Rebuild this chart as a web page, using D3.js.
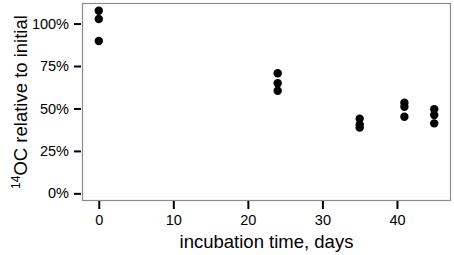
<!DOCTYPE html>
<html>
<head>
<meta charset="utf-8">
<script src="https://cdn.jsdelivr.net/npm/d3@7"></script>
<style>
  body { margin: 0; background: #fff; }
  svg { display: block; font-family: "Liberation Sans", Arial, sans-serif; }
</style>
</head>
<body>
<div id="chart"></div>
<script>
// incubation day of each sample and fraction of 14OC remaining
const days = [0, 0, 0, 24, 24, 24, 35, 35, 35, 41, 41, 41, 45, 45, 45];
const fraction = [1.075, 1.027, 0.897, 0.707, 0.648, 0.604, 0.44, 0.405, 0.387,
                  0.534, 0.51, 0.451, 0.496, 0.461, 0.412];
const xTicks = [0, 10, 20, 30, 40];
const yTicks = [0, 0.25, 0.5, 0.75, 1];

const width = 454, height = 255;
const margin = {top: 3, right: 3, bottom: 54, left: 82};

const svg = d3.select('#chart')
              .append('svg')
              .attr('width', width)
              .attr('height', height);

const x = d3.scaleLinear()
            .domain([-2.25, 47.25])
            .range([margin.left, width - margin.right]);

const y = d3.scaleLinear()
            .domain([-0.045, 1.121])
            .range([height - margin.bottom, margin.top]);

// panel border
svg.append('rect')
   .attr('x', margin.left + 0.5)
   .attr('y', margin.top + 0.5)
   .attr('width', width - margin.left - margin.right - 1)
   .attr('height', height - margin.top - margin.bottom - 1)
   .attr('fill', 'none')
   .attr('stroke', '#8c8c8c')
   .attr('stroke-width', 1.2);

const xAxis = svg.append('g')
   .attr('transform', `translate(0,${height - margin.bottom})`)
   .call(d3.axisBottom(x).tickValues(xTicks).tickSize(8).tickPadding(6).tickSizeOuter(0));

const yAxis = svg.append('g')
   .attr('transform', `translate(${margin.left - 1},0)`)
   .call(d3.axisLeft(y).tickValues(yTicks).tickSize(7).tickPadding(5)
           .tickFormat(d3.format('.0%')));

[xAxis, yAxis].forEach(g => {
  g.select('.domain').remove();
  g.selectAll('.tick line').attr('stroke', '#000').attr('stroke-width', 2);
  g.selectAll('.tick text')
   .attr('font-size', '14.5px')
   .attr('fill', '#000')
   .attr('font-family', '"Liberation Sans", Arial, sans-serif');
});

svg.selectAll('circle')
   .data(days)
   .enter()
   .append('circle')
   .attr('cx', d => x(d))
   .attr('cy', (d, i) => y(fraction[i]))
   .attr('r', 4.2)
   .attr('fill', '#000');

svg.append('text')
   .attr('x', (margin.left + width - margin.right) / 2)
   .attr('y', 248)
   .attr('text-anchor', 'middle')
   .attr('font-size', '18.5px')
   .text('incubation time, days');

const yTitle = svg.append('text')
   .attr('transform', `translate(27,${(margin.top + height - margin.bottom) / 2}) rotate(-90)`)
   .attr('text-anchor', 'middle')
   .attr('font-size', '18.5px');
yTitle.append('tspan')
   .attr('font-size', '12px')
   .attr('dy', '-7')
   .text('14');
yTitle.append('tspan')
   .attr('dy', '7')
   .text('OC relative to initial');
</script>
</body>
</html>
